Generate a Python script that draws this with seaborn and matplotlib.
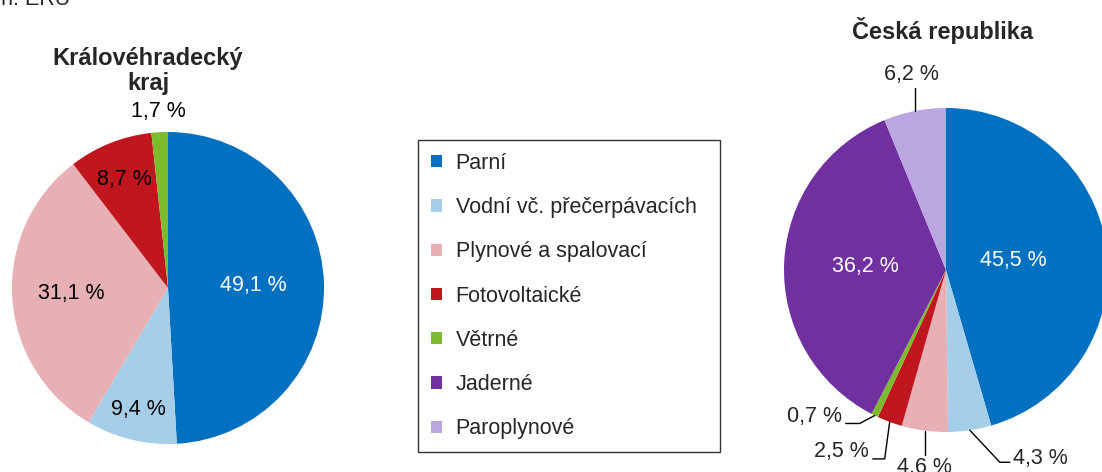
import numpy as np
import seaborn as sns
import matplotlib.pyplot as plt
from matplotlib.patches import Patch

# data
categories = ['Parní', 'Vodní vč. přečerpávacích', 'Plynové a spalovací',
              'Fotovoltaické', 'Větrné', 'Jaderné', 'Paroplynové']
colors = ['#0070C0', '#A6CEE8', '#E6B0B4', '#C0161E', '#7CBB2E', '#7030A0', '#BBA6E2']

kraj_vals = [49.1, 9.4, 31.1, 8.7, 1.7]
kraj_labels = ['49,1 %', '9,4 %', '31,1 %', '8,7 %', '1,7 %']
cr_vals = [45.5, 4.3, 4.6, 2.5, 0.7, 36.2, 6.2]
cr_labels = ['45,5 %', '4,3 %', '4,6 %', '2,5 %', '0,7 %', '36,2 %', '6,2 %']

sns.set_theme(style='white')
plt.rcParams['font.family'] = ['Liberation Sans', 'DejaVu Sans']

W, H = 1102, 472
fig = plt.figure(figsize=(W / 100, H / 100), dpi=100)
ax = fig.add_axes([0, 0, 1, 1])

FS = 15.5
FT = 17

def mid_point(w, c, r, f):
    a = np.deg2rad((w.theta1 + w.theta2) / 2)
    return c[0] + f * r * np.cos(a), c[1] + f * r * np.sin(a)

# levy kolac
c1, r1 = (168, H - 288), 156
w1, _ = ax.pie(kraj_vals, colors=colors[:5], startangle=90, counterclock=False,
               center=c1, radius=r1, wedgeprops=dict(linewidth=0))
f1 = [0.55, 0.8, 0.62, 0.75, 1.13]
tc1 = ['white', 'black', 'black', 'black', 'black']
for w, lab, f, tc in zip(w1, kraj_labels, f1, tc1):
    x, y = mid_point(w, c1, r1, f)
    ax.text(x, y, lab, ha='center', va='center', fontsize=FS, color=tc)

# pravy kolac
c2, r2 = (946, H - 270), 162
w2, _ = ax.pie(cr_vals, colors=colors, startangle=90, counterclock=False,
               center=c2, radius=r2, wedgeprops=dict(linewidth=0))

inner = {0: 0.42, 5: 0.5}
for i, f in inner.items():
    x, y = mid_point(w2[i], c2, r2, f)
    ax.text(x, y, cr_labels[i], ha='center', va='center', fontsize=FS, color='white')

# popisky s vodici carou (body lomene cary relativne k okraji vysece)
leaders = {
    1: [(30, -32), (40, -32)],
    2: [(0, -24)],
    3: [(-5, -37), (-17, -37)],
    4: [(-15, -8), (-29, -8)],
    6: [(0, 23)],
}
for i, pts in leaders.items():
    x0, y0 = mid_point(w2[i], c2, r2, 1.0)
    xs = [x0] + [x0 + p[0] for p in pts]
    ys = [y0] + [y0 + p[1] for p in pts]
    ax.plot(xs, ys, color='black', lw=1)
    xe, ye = xs[-1], ys[-1]
    if i == 1:
        ax.text(xe + 3, ye + 4, cr_labels[i], ha='left', va='center', fontsize=FS)
    elif i == 2:
        ax.text(xe, ye - 13, cr_labels[i], ha='center', va='center', fontsize=FS)
    elif i == 6:
        ax.text(xe - 3, ye + 14, cr_labels[i], ha='center', va='center', fontsize=FS)
    else:
        ax.text(xe - 4, ye + 7, cr_labels[i], ha='right', va='center', fontsize=FS)

ax.set_xlim(0, W)
ax.set_ylim(0, H)
ax.set_aspect('equal')
ax.axis('off')

# titulky
ax.text(148, H - 71, 'Královéhradecký\nkraj', ha='center', va='center',
        fontsize=FT, fontweight='bold', linespacing=1.15)
ax.text(943, H - 30, 'Česká republika', ha='center', va='center',
        fontsize=FT, fontweight='bold')
ax.text(70, H - 5, 'Pramen: ERÚ', ha='right', va='baseline', fontsize=FS)

handles = [Patch(facecolor=c, edgecolor='none') for c in colors]
leg = fig.legend(handles, categories, loc='upper left', mode='expand',
                 bbox_to_anchor=(418 / W, 20 / H, 302 / W, 312 / H), borderaxespad=0,
                 fontsize=FS, frameon=True, fancybox=False, edgecolor='black',
                 handlelength=0.5, handleheight=0.5, handletextpad=0.65,
                 labelspacing=1.08, borderpad=0.6)
leg.get_frame().set_linewidth(1)

fig.savefig('out.png', dpi=100)
